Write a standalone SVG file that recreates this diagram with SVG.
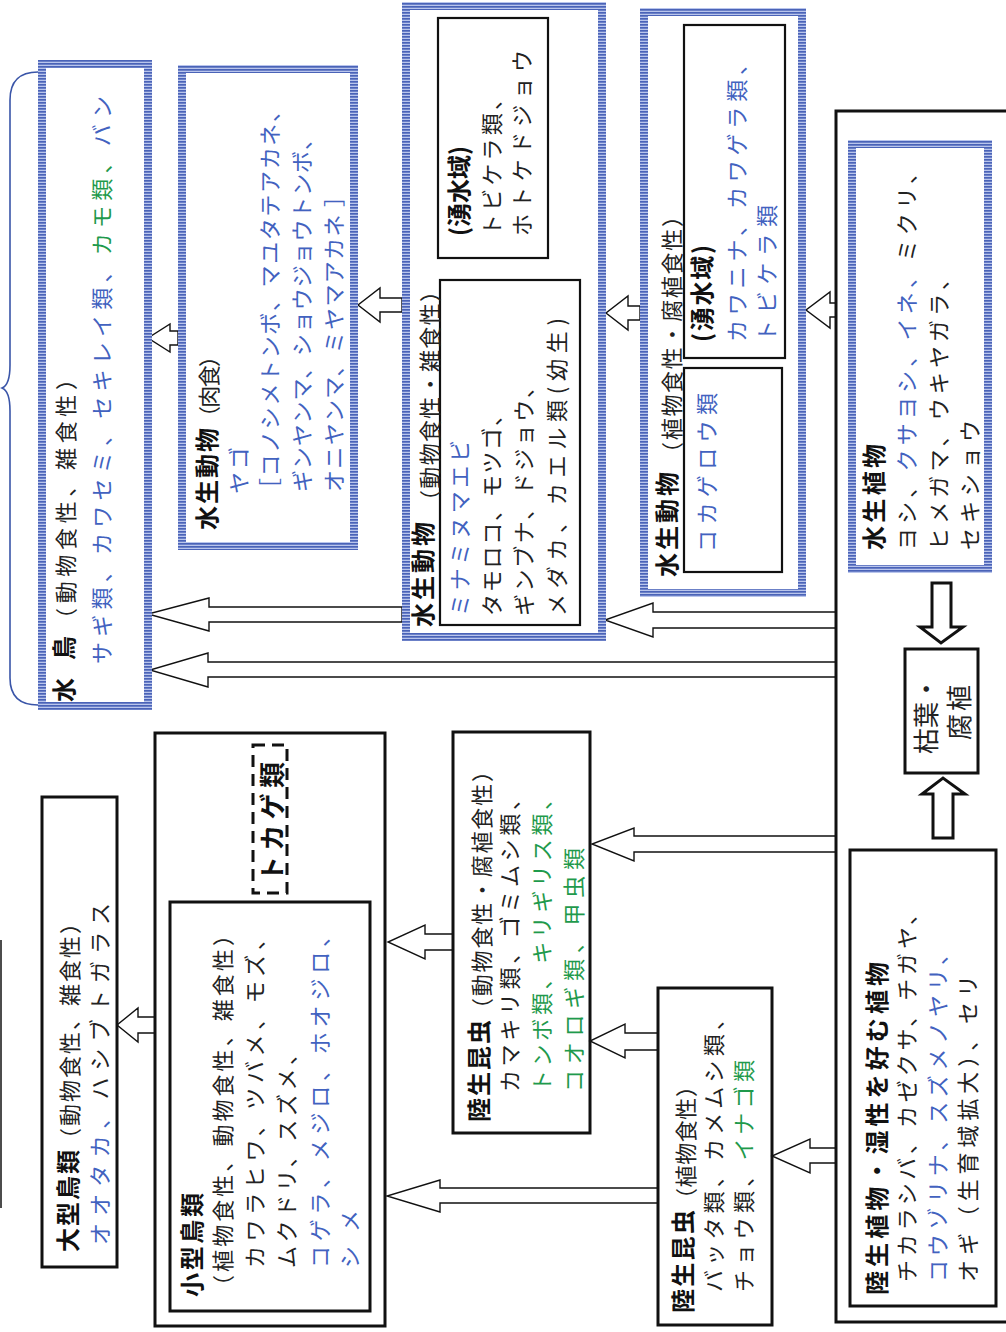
<svg xmlns="http://www.w3.org/2000/svg" width="1006" height="1332" viewBox="0 0 1006 1332">
<style>
text{font-family:"Noto Sans CJK JP","Noto Sans CJK SC",sans-serif;font-size:22px;fill:#222;dominant-baseline:central}
.b{font-weight:bold;font-size:24px;fill:#111}
.bl{fill:#4262bf}
.gr{fill:#1f9a4c}
.bx{fill:none;stroke:#111;stroke-width:3}
.in{fill:none;stroke:#111;stroke-width:2.2}
.blu{fill:none;stroke:url(#hs);stroke-width:8}
.arr{fill:#fff;stroke:#111;stroke-width:1.4}
</style>
<defs>
<pattern id="hs" width="4" height="3" patternUnits="userSpaceOnUse"><rect width="4" height="3" fill="#b9c5ec"/><rect width="4" height="1.7" fill="#4a63b8"/></pattern>
</defs>
<rect width="1006" height="1332" fill="#fff"/>

<g id="connectors">
<polygon class="arr" points="836,303 830,303 830,292 806,310 830,328 830,317 836,317"/>
<polygon class="arr" points="836,612 653,612 653,603 605,620 653,637 653,628 836,628"/>
<polygon class="arr" points="836,662 208,662 208,653 150,670 208,687 208,677 836,677"/>
<polygon class="arr" points="402,607 209,607 209,598 148,614 209,631 209,622 402,622"/>
<polygon class="arr" points="178,331 170,331 170,324 148,338 170,352 170,345 178,345"/>
<polygon class="arr" points="402,298 380,298 380,288 358,305 380,322 380,312 402,312"/>
<polygon class="arr" points="640,306 628,306 628,296 606,313 628,330 628,320 640,320"/>
<polygon class="arr" points="836,836 634,836 634,828 592,844 634,861 634,852 836,852"/>
<polygon class="arr" points="836,1148 810,1148 810,1139 772,1156 810,1173 810,1163 836,1163"/>
<polygon class="arr" points="658,1033 625,1033 625,1024 590,1041 625,1058 625,1050 658,1050"/>
<polygon class="arr" points="658,1188 440,1188 440,1180 387,1196 440,1212 440,1203 658,1203"/>
<polygon class="arr" points="453,934 425,934 425,925 388,942 425,959 425,950 453,950"/>
<polygon class="arr" points="155,1017 138,1017 138,1008 117,1025 138,1042 138,1033 155,1033"/>
<polygon fill="#fff" stroke="#111" stroke-width="3" points="932,583 951,583 951,627 963,627 941,643 920,627 932,627"/>
<polygon fill="#fff" stroke="#111" stroke-width="3" points="933,838 953,838 953,794 965,794 943,778 922,794 933,794"/>
<line x1="1" y1="940" x2="1" y2="1208" stroke="#111" stroke-width="1.5"/>
<path d="M38,72 Q10,72 10,100 L10,365 Q10,385 2,388 Q10,391 10,411 L10,678 Q10,705 38,705" fill="none" stroke="#3a55a8" stroke-width="1.6"/>
</g>

<g id="mizudori">
<rect class="blu" x="42" y="64" width="106" height="642"/>
<text class="b" transform="translate(62,702) rotate(-90)" textLength="66" lengthAdjust="spacing">水　鳥</text>
<text transform="translate(64,630) rotate(-90)" textLength="262" lengthAdjust="spacing">（動物食性、雑食性）</text>
<text transform="translate(100,664) rotate(-90)" textLength="568" lengthAdjust="spacing"><tspan class="bl">サギ類、カワセミ、セキレイ類、</tspan><tspan class="gr">カモ類、</tspan><tspan class="bl">バン</tspan></text>
</g>

<g id="suisei-nikushoku">
<rect class="blu" x="182" y="69" width="172" height="477"/>
<text class="b" transform="translate(205,530) rotate(-90)" textLength="102" lengthAdjust="spacing">水生動物</text>
<text transform="translate(207,428) rotate(-90)" textLength="83" lengthAdjust="spacing">（肉食）</text>
<text class="bl" transform="translate(237,494) rotate(-90)" textLength="47" lengthAdjust="spacing">ヤゴ</text>
<text class="bl" transform="translate(268,500) rotate(-90)" textLength="400" lengthAdjust="spacing">［コノシメトンボ、マユタテアカネ、</text>
<text class="bl" transform="translate(300,492) rotate(-90)" textLength="364" lengthAdjust="spacing">ギンヤンマ、ショウジョウトンボ、</text>
<text class="bl" transform="translate(332,492) rotate(-90)" textLength="307" lengthAdjust="spacing">オニヤンマ、ミヤマアカネ ］</text>
</g>

<g id="suisei-zasshoku">
<rect class="blu" x="406" y="6" width="196" height="631"/>
<rect class="in" x="440" y="280" width="140" height="345"/>
<rect class="in" x="438" y="18" width="110" height="240"/>
<text class="b" transform="translate(421,627) rotate(-90)" textLength="105" lengthAdjust="spacing">水生動物</text>
<text transform="translate(428,512) rotate(-90)" textLength="232" lengthAdjust="spacing">（動物食性・雑食性）</text>
<text class="bl" transform="translate(458,616) rotate(-90)" textLength="176" lengthAdjust="spacing">ミナミヌマエビ</text>
<text transform="translate(490,616) rotate(-90)" textLength="212" lengthAdjust="spacing">タモロコ、モツゴ、</text>
<text transform="translate(522,616) rotate(-90)" textLength="240" lengthAdjust="spacing">ギンブナ、ドジョウ、</text>
<text transform="translate(555,616) rotate(-90)" textLength="298" lengthAdjust="spacing">メダカ、カエル類(幼生)</text>
<text class="b" transform="translate(457,236) rotate(-90)" textLength="90" lengthAdjust="spacing">(湧水域)</text>
<text transform="translate(490,236) rotate(-90)" textLength="148" lengthAdjust="spacing">トビケラ類、</text>
<text transform="translate(520,236) rotate(-90)" textLength="186" lengthAdjust="spacing">ホトケドジョウ</text>
</g>

<g id="suisei-shokubutsushoku">
<rect class="blu" x="644" y="12" width="158" height="581"/>
<rect class="in" x="684" y="368" width="98" height="204"/>
<rect class="in" x="684" y="25" width="101" height="333"/>
<text class="b" transform="translate(665,577) rotate(-90)" textLength="105" lengthAdjust="spacing">水生動物</text>
<text transform="translate(670,464) rotate(-90)" textLength="259" lengthAdjust="spacing">（植物食性・腐植食性）</text>
<text class="bl" transform="translate(705,552) rotate(-90)" textLength="159" lengthAdjust="spacing">コカゲロウ類</text>
<text class="b" transform="translate(700,342) rotate(-90)" textLength="97" lengthAdjust="spacing">(湧水域)</text>
<text class="bl" transform="translate(735,342) rotate(-90)" textLength="289" lengthAdjust="spacing">カワニナ、カワゲラ類、</text>
<text class="bl" transform="translate(765,342) rotate(-90)" textLength="137" lengthAdjust="spacing">トビケラ類</text>
</g>

<g id="shokubutsu-waku">
<rect class="bx" x="836" y="111" width="200" height="1211"/>
</g>

<g id="suisei-shokubutsu">
<rect class="blu" x="852" y="144" width="136" height="425"/>
<text class="b" transform="translate(872,550) rotate(-90)" textLength="106" lengthAdjust="spacing">水生植物</text>
<text transform="translate(905,550) rotate(-90)" textLength="388" lengthAdjust="spacing">ヨシ、<tspan class="bl">クサヨシ、イネ、</tspan>ミクリ、</text>
<text transform="translate(937,550) rotate(-90)" textLength="282" lengthAdjust="spacing">ヒメガマ、ウキヤガラ、</text>
<text transform="translate(968,550) rotate(-90)" textLength="130" lengthAdjust="spacing">セキショウ</text>
</g>

<g id="kareha">
<rect class="bx" x="905" y="649" width="73" height="124"/>
<text style="font-size:26px" transform="translate(924,754) rotate(-90)" textLength="78" lengthAdjust="spacing">枯葉・</text>
<text style="font-size:26px" transform="translate(957,740) rotate(-90)" textLength="55" lengthAdjust="spacing">腐植</text>
</g>

<g id="rikusei-shokubutsu">
<rect class="bx" x="850" y="850" width="146" height="456"/>
<text class="b" transform="translate(875,1295) rotate(-90)" textLength="333" lengthAdjust="spacing">陸生植物・湿性を好む植物</text>
<text transform="translate(905,1282) rotate(-90)" textLength="379" lengthAdjust="spacing">チカラシバ、カゼクサ、チガヤ、</text>
<text class="bl" transform="translate(936,1282) rotate(-90)" textLength="339" lengthAdjust="spacing">コウゾリナ、スズメノヤリ、</text>
<text transform="translate(966,1282) rotate(-90)" textLength="307" lengthAdjust="spacing">オギ（生育域拡大）、セリ</text>
</g>

<g id="ogata-chorui">
<rect class="bx" x="42" y="797" width="75" height="470"/>
<text class="b" transform="translate(66,1252) rotate(-90)" textLength="102" lengthAdjust="spacing">大型鳥類</text>
<text transform="translate(68,1150) rotate(-90)" textLength="238" lengthAdjust="spacing">（動物食性、雑食性）</text>
<text transform="translate(98,1245) rotate(-90)" textLength="342" lengthAdjust="spacing"><tspan class="bl">オオタカ、</tspan>ハシブトガラス</text>
</g>

<g id="kogata-waku">
<rect class="bx" x="155" y="733" width="230" height="593"/>
</g>

<g id="tokage">
<rect x="253" y="745" width="34" height="148" fill="none" stroke="#111" stroke-width="3" stroke-dasharray="12 7"/>
<text class="b" style="font-size:26px" transform="translate(270,882) rotate(-90)" textLength="120" lengthAdjust="spacing">トカゲ類</text>
</g>

<g id="kogata-chorui">
<rect class="bx" x="170" y="902" width="200" height="409"/>
<text class="b" transform="translate(190,1297) rotate(-90)" textLength="104" lengthAdjust="spacing">小型鳥類</text>
<text transform="translate(221,1297) rotate(-90)" textLength="373" lengthAdjust="spacing">（植物食性、動物食性、雑食性）</text>
<text transform="translate(253,1268) rotate(-90)" textLength="340" lengthAdjust="spacing">カワラヒワ、ツバメ、モズ、</text>
<text transform="translate(285,1268) rotate(-90)" textLength="225" lengthAdjust="spacing">ムクドリ、スズメ、</text>
<text class="bl" transform="translate(318,1268) rotate(-90)" textLength="343" lengthAdjust="spacing">コゲラ、メジロ、ホオジロ、</text>
<text class="bl" transform="translate(348,1268) rotate(-90)" textLength="58" lengthAdjust="spacing">シメ</text>
</g>

<g id="rikusei-konchu-dobutsu">
<rect class="bx" x="453" y="732" width="137" height="401"/>
<text class="b" transform="translate(477,1122) rotate(-90)" textLength="102" lengthAdjust="spacing">陸生昆虫</text>
<text transform="translate(480,1020) rotate(-90)" textLength="260" lengthAdjust="spacing">（動物食性・腐植食性）</text>
<text transform="translate(508,1092) rotate(-90)" textLength="304" lengthAdjust="spacing">カマキリ類、ゴミムシ類、</text>
<text class="gr" transform="translate(540,1092) rotate(-90)" textLength="304" lengthAdjust="spacing">トンボ類、キリギリス類、</text>
<text class="gr" transform="translate(572,1092) rotate(-90)" textLength="244" lengthAdjust="spacing">コオロギ類、甲虫類</text>
</g>

<g id="rikusei-konchu-shokubutsu">
<rect class="bx" x="658" y="988" width="114" height="337"/>
<text class="b" transform="translate(681,1313) rotate(-90)" textLength="103" lengthAdjust="spacing">陸生昆虫</text>
<text transform="translate(684,1210) rotate(-90)" textLength="135" lengthAdjust="spacing">（植物食性）</text>
<text transform="translate(712,1292) rotate(-90)" textLength="284" lengthAdjust="spacing">バッタ類、カメムシ類、</text>
<text transform="translate(742,1292) rotate(-90)" textLength="232" lengthAdjust="spacing">チョウ類、<tspan class="gr">イナゴ類</tspan></text>
</g>
</svg>
